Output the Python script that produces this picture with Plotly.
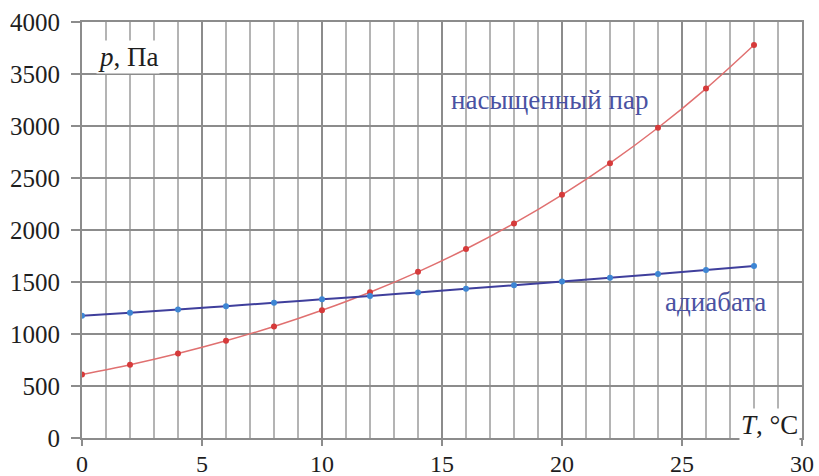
import plotly.graph_objects as go

T = [0, 2, 4, 6, 8, 10, 12, 14, 16, 18, 20, 22, 24, 26, 28]
p_sat = [611, 705, 813, 935, 1072, 1228, 1402, 1598, 1817, 2063, 2338, 2643, 2983, 3360, 3779]
p_adiab = [1175, 1205, 1236, 1268, 1300, 1333, 1366, 1400, 1434, 1469, 1505, 1541, 1578, 1615, 1655]

x_ticks = [0, 5, 10, 15, 20, 25, 30]
y_ticks = [0, 500, 1000, 1500, 2000, 2500, 3000, 3500, 4000]

FONT = "Liberation Serif"
GRID_MAJOR = "#8c8c8c"
GRID_MINOR = "#b4b4b4"
TXT = "#1e1e1e"
LBL = "#4a52a2"

fig = go.Figure()
fig.add_trace(go.Scatter(
    x=T, y=p_sat, mode="lines+markers",
    line=dict(color="#e07070", width=1.5, shape="spline"),
    marker=dict(color="#d63a3a", size=6),
    name="насыщенный пар", showlegend=False))
fig.add_trace(go.Scatter(
    x=T, y=p_adiab, mode="lines+markers",
    line=dict(color="#3f3f9c", width=2, shape="spline"),
    marker=dict(color="#3d86d4", size=6),
    name="адиабата", showlegend=False))

fig.update_layout(
    width=819, height=476,
    margin=dict(l=82, r=17, t=22, b=38),
    paper_bgcolor="white", plot_bgcolor="white",
    font=dict(family=FONT, size=25, color=TXT),
    xaxis=dict(
        range=[0, 30], tickvals=x_ticks, ticktext=[str(v) for v in x_ticks],
        showgrid=True, gridcolor=GRID_MAJOR, gridwidth=2,
        minor=dict(dtick=1, showgrid=True, gridcolor=GRID_MINOR, gridwidth=2),
        ticks="outside", ticklen=6, tickwidth=2, tickcolor=GRID_MAJOR,
        ticklabelstandoff=-3,
        showline=True, linecolor=GRID_MAJOR, linewidth=2, mirror=True,
        zeroline=False, automargin=False,
        tickfont=dict(family=FONT, size=24, color=TXT),
    ),
    yaxis=dict(
        range=[0, 4000], tickvals=y_ticks, ticktext=[str(v) for v in y_ticks],
        showgrid=True, gridcolor=GRID_MAJOR, gridwidth=2,
        ticks="outside", ticklen=9, tickwidth=2, tickcolor=GRID_MAJOR,
        ticklabelstandoff=6,
        showline=True, linecolor=GRID_MAJOR, linewidth=2, mirror=True,
        zeroline=False, automargin=False,
        tickfont=dict(family=FONT, size=25, color=TXT),
    ),
    annotations=[
        dict(x=19.5, y=3250, text="насыщенный пар", showarrow=False,
             font=dict(family=FONT, size=27, color=LBL)),
        dict(x=26.4, y=1308, text="адиабата", showarrow=False,
             font=dict(family=FONT, size=27, color=LBL)),
        dict(x=0.6, y=3660, text="<i>p</i>, Па", showarrow=False, xanchor="left",
             font=dict(family=FONT, size=27, color=TXT), bgcolor="white"),
        dict(x=29.9, y=125, text="<i>T</i>, °C", showarrow=False, xanchor="right",
             font=dict(family=FONT, size=27, color=TXT), bgcolor="white"),
    ],
)

fig.write_html("out.html", config={"displayModeBar": False},
               post_script="document.body.style.margin='0';")
